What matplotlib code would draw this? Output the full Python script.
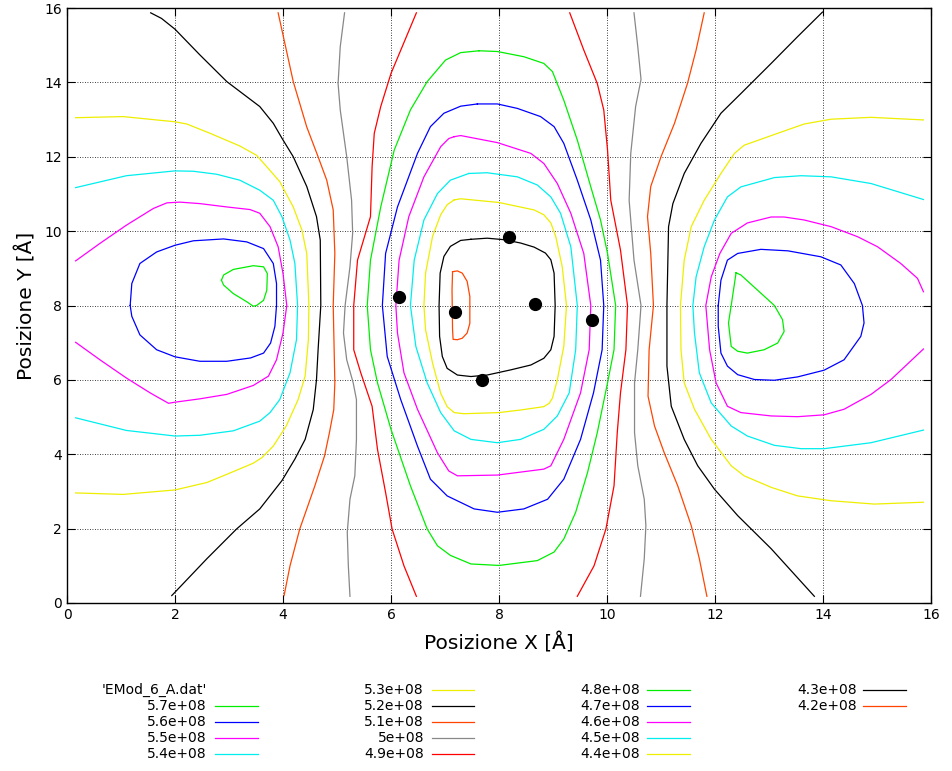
import matplotlib
matplotlib.use('Agg')
import matplotlib.pyplot as plt
from matplotlib.lines import Line2D

# livelli del contour (come nel file gnuplot)
levels = ['5.7e+08', '5.6e+08', '5.5e+08', '5.4e+08', '5.3e+08', '5.2e+08',
          '5.1e+08', '5e+08', '4.9e+08', '4.8e+08', '4.7e+08', '4.6e+08',
          '4.5e+08', '4.4e+08', '4.3e+08', '4.2e+08']
colors = ['#00ee00', '#0000ff', '#ff00ff', '#00eeee', '#eeee00', '#000000',
          '#ff4500', '#888888', '#ff0000', '#00ee00', '#0000ff', '#ff00ff',
          '#00eeee', '#eeee00', '#000000', '#ff4500']

# curve (x, y) in Angstrom
c57_l = [(2.86, 8.68), (2.90, 8.82), (3.08, 8.97), (3.45, 9.07), (3.64, 9.04), (3.71, 8.86),
         (3.70, 8.41), (3.64, 8.14), (3.51, 8.0), (3.45, 7.98), (3.33, 8.1), (3.08, 8.32),
         (2.90, 8.55), (2.86, 8.68)]
c57_r = [(12.39, 8.88), (12.30, 8.0), (12.25, 7.53), (12.30, 6.9), (12.42, 6.77), (12.60, 6.72),
         (12.91, 6.81), (13.16, 6.99), (13.28, 7.3), (13.25, 7.62), (13.10, 8.0), (12.79, 8.41),
         (12.48, 8.82), (12.39, 8.88)]
c56_l = [(1.17, 8.0), (1.20, 8.59), (1.35, 9.13), (1.66, 9.44), (2.0, 9.62), (2.34, 9.74),
         (2.90, 9.79), (3.33, 9.71), (3.64, 9.53), (3.82, 9.13), (3.88, 8.59), (3.88, 8.0),
         (3.85, 7.44), (3.77, 6.99), (3.64, 6.72), (3.40, 6.59), (2.96, 6.5), (2.46, 6.5),
         (2.0, 6.62), (1.66, 6.81), (1.35, 7.21), (1.20, 7.71), (1.17, 8.0)]
c56_r = [(12.06, 8.0), (12.11, 8.68), (12.23, 9.22), (12.42, 9.4), (12.85, 9.51), (13.35, 9.47),
         (13.96, 9.31), (14.33, 9.09), (14.58, 8.59), (14.73, 8.0), (14.76, 7.53), (14.70, 7.17),
         (14.39, 6.54), (14.02, 6.26), (13.53, 6.08), (13.10, 5.99), (12.73, 6.01), (12.42, 6.14),
         (12.23, 6.37), (12.11, 6.72), (12.06, 7.44), (12.06, 8.0)]
c55_l = [(0.16, 9.2), (0.61, 9.67), (1.10, 10.16), (1.60, 10.61), (1.85, 10.76), (2.09, 10.78),
         (2.46, 10.74), (2.96, 10.65), (3.39, 10.58), (3.57, 10.48), (3.76, 10.12), (3.91, 9.58),
         (4.0, 8.86), (4.07, 8.0), (4.0, 7.26), (3.88, 6.54), (3.73, 6.1), (3.45, 5.85),
         (2.96, 5.61), (2.46, 5.49), (2.0, 5.4), (1.88, 5.37), (1.54, 5.65), (1.10, 6.05),
         (0.61, 6.54), (0.16, 7.01)]
c55_r = [(15.86, 8.37), (15.75, 8.73), (15.44, 9.13), (15.01, 9.58), (14.64, 9.85), (14.15, 10.12),
         (13.65, 10.3), (13.28, 10.38), (13.04, 10.38), (12.60, 10.22), (12.30, 9.94), (12.09, 9.4),
         (11.93, 8.77), (11.83, 8.0), (11.90, 6.81), (12.02, 5.92), (12.23, 5.29), (12.48, 5.12),
         (13.04, 5.03), (13.53, 5.01), (14.02, 5.06), (14.39, 5.21), (14.89, 5.61), (15.26, 6.01),
         (15.86, 6.83)]
c54_l = [(0.16, 11.17), (1.10, 11.49), (2.0, 11.62), (2.34, 11.61), (2.77, 11.53), (3.20, 11.37),
         (3.57, 11.1), (3.82, 10.83), (3.98, 10.39), (4.13, 9.76), (4.22, 9.13), (4.27, 8.0),
         (4.25, 7.08), (4.13, 6.19), (3.94, 5.47), (3.76, 5.12), (3.57, 4.89), (3.08, 4.63),
         (2.46, 4.51), (2.0, 4.49), (1.10, 4.64), (0.16, 4.98)]
c54_r = [(15.86, 10.85), (14.89, 11.28), (14.15, 11.46), (13.59, 11.49), (13.10, 11.44), (12.48, 11.19),
         (12.23, 10.92), (11.99, 10.3), (11.80, 9.58), (11.65, 8.77), (11.59, 8.0), (11.62, 7.26),
         (11.71, 6.19), (11.93, 5.38), (12.30, 4.76), (12.60, 4.49), (13.10, 4.24), (13.59, 4.15),
         (14.02, 4.15), (14.89, 4.31), (15.86, 4.65)]
c53_l = [(0.16, 13.05), (1.04, 13.08), (2.0, 12.94), (2.22, 12.88), (2.65, 12.63), (3.20, 12.29),
         (3.51, 12.04), (3.70, 11.73), (3.94, 11.33), (4.19, 10.65), (4.35, 10.03), (4.44, 9.4),
         (4.48, 8.0), (4.47, 7.08), (4.41, 6.1), (4.28, 5.47), (4.06, 4.76), (3.82, 4.22),
         (3.61, 3.91), (3.45, 3.76), (2.96, 3.46), (2.59, 3.24), (2.0, 3.04), (1.04, 2.92),
         (0.16, 2.96)]
c53_r = [(15.86, 12.99), (14.89, 13.06), (14.15, 13.01), (13.65, 12.88), (13.16, 12.63), (12.54, 12.31),
         (12.36, 12.09), (12.11, 11.55), (11.80, 10.83), (11.56, 10.12), (11.43, 9.22), (11.36, 8.0),
         (11.37, 6.81), (11.43, 5.92), (11.62, 5.21), (11.93, 4.4), (12.30, 3.69), (12.54, 3.42),
         (13.04, 3.11), (13.53, 2.88), (14.15, 2.75), (14.95, 2.66), (15.86, 2.71)]
c52_l = [(1.55, 15.87), (1.75, 15.72), (2.0, 15.43), (2.46, 14.74), (2.96, 14.02), (3.57, 13.35),
         (3.82, 12.9), (3.98, 12.5), (4.19, 12.0), (4.44, 11.2), (4.62, 10.39), (4.69, 9.76),
         (4.70, 8.0), (4.65, 6.81), (4.62, 6.0), (4.56, 5.2), (4.41, 4.4), (4.22, 3.87),
         (3.98, 3.29), (3.57, 2.53), (3.14, 1.99), (2.59, 1.19), (2.0, 0.29), (1.94, 0.2)]
c52_r = [(13.99, 15.89), (13.53, 15.23), (13.04, 14.51), (12.48, 13.7), (12.11, 13.17), (11.74, 12.36),
         (11.43, 11.55), (11.22, 10.74), (11.14, 10.12), (11.11, 8.0), (11.11, 6.37), (11.19, 5.29),
         (11.43, 4.4), (11.68, 3.69), (11.99, 3.06), (12.42, 2.35), (13.04, 1.46), (13.84, 0.18)]
c51_l = [(3.91, 15.87), (4.19, 14.02), (4.44, 12.8), (4.65, 12.0), (4.81, 11.37), (4.93, 10.57),
         (4.96, 9.4), (4.93, 8.0), (4.96, 5.92), (4.94, 5.2), (4.86, 4.58), (4.77, 3.96),
         (4.59, 3.15), (4.31, 1.99), (4.13, 1.0), (4.02, 0.2)]
c51_r = [(11.80, 15.87), (11.65, 14.87), (11.49, 13.97), (11.25, 12.9), (11.0, 12.0), (10.81, 11.2),
         (10.75, 10.39), (10.81, 9.4), (10.86, 8.0), (10.78, 6.81), (10.76, 5.56), (10.88, 4.76),
         (11.06, 4.04), (11.31, 3.15), (11.56, 2.08), (11.71, 1.19), (11.85, 0.18)]
c50_l = [(5.14, 15.87), (5.06, 14.96), (5.02, 13.97), (5.06, 13.26), (5.18, 12.0), (5.27, 10.83),
         (5.29, 9.94), (5.24, 9.04), (5.15, 8.0), (5.12, 7.26), (5.18, 6.54), (5.30, 5.92),
         (5.36, 5.47), (5.36, 4.4), (5.33, 3.42), (5.24, 2.79), (5.19, 1.9), (5.21, 1.0),
         (5.24, 0.18)]
c50_r = [(10.50, 15.87), (10.57, 14.96), (10.63, 14.08), (10.53, 13.35), (10.44, 12.09), (10.41, 10.83),
         (10.50, 9.22), (10.63, 8.0), (10.57, 6.81), (10.51, 5.92), (10.51, 4.58), (10.57, 3.69),
         (10.69, 2.79), (10.72, 2.08), (10.69, 1.19), (10.62, 0.18)]
c49_l = [(6.47, 15.87), (6.0, 14.24), (5.81, 13.35), (5.69, 12.63), (5.65, 11.73), (5.62, 10.39),
         (5.38, 9.22), (5.31, 8.0), (5.31, 6.81), (5.44, 6.19), (5.65, 5.29), (5.75, 4.13),
         (5.90, 2.97), (6.02, 1.99), (6.24, 1.0), (6.47, 0.18)]
c49_r = [(9.31, 15.87), (9.57, 14.87), (9.82, 13.97), (9.94, 13.26), (10.01, 12.18), (10.07, 10.83),
         (10.25, 9.49), (10.38, 8.0), (10.35, 6.81), (10.25, 5.65), (10.19, 4.58), (10.13, 3.15),
         (9.98, 1.99), (9.76, 1.0), (9.45, 0.18)]
c48 = [(7.63, 14.85), (7.97, 14.83), (8.46, 14.69), (8.83, 14.51), (8.99, 14.29), (9.20, 13.52),
       (9.45, 12.45), (9.70, 11.19), (9.88, 10.3), (10.01, 9.4), (10.16, 8.0), (10.13, 6.81),
       (10.01, 5.92), (9.82, 4.58), (9.64, 3.51), (9.42, 2.44), (9.20, 1.72), (9.02, 1.37),
       (8.71, 1.14), (8.0, 1.01), (7.48, 1.05), (7.10, 1.28), (6.86, 1.54), (6.67, 1.99),
       (6.36, 3.15), (6.0, 4.67), (5.75, 5.92), (5.62, 6.81), (5.56, 8.0), (5.62, 9.22),
       (5.81, 10.65), (6.06, 12.18), (6.36, 13.26), (6.67, 14.02), (7.01, 14.6), (7.29, 14.8),
       (7.63, 14.85)]
c47 = [(7.60, 13.42), (7.97, 13.42), (8.34, 13.3), (8.77, 13.08), (9.02, 12.81), (9.20, 12.36),
       (9.45, 11.37), (9.70, 10.3), (9.88, 9.22), (9.94, 8.0), (9.91, 6.81), (9.75, 5.65),
       (9.51, 4.4), (9.20, 3.33), (8.90, 2.79), (8.46, 2.53), (7.97, 2.44), (7.54, 2.53),
       (7.04, 2.88), (6.73, 3.33), (6.49, 4.22), (6.18, 5.47), (5.93, 6.63), (5.84, 8.0),
       (5.90, 9.4), (6.12, 10.65), (6.49, 12.09), (6.73, 12.81), (6.98, 13.17), (7.29, 13.36),
       (7.60, 13.42)]
c46 = [(7.17, 12.54), (7.29, 12.57), (7.97, 12.38), (8.59, 12.09), (8.83, 11.82), (9.08, 11.28),
       (9.33, 10.48), (9.57, 9.4), (9.70, 8.0), (9.67, 6.81), (9.51, 5.65), (9.20, 4.4),
       (8.96, 3.69), (8.83, 3.6), (7.97, 3.44), (7.23, 3.42), (7.07, 3.55), (6.86, 4.04),
       (6.49, 5.21), (6.24, 6.19), (6.12, 7.26), (6.09, 8.0), (6.15, 9.22), (6.33, 10.39),
       (6.61, 11.46), (6.92, 12.27), (7.07, 12.49), (7.17, 12.54)]
c45 = [(7.44, 11.55), (7.78, 11.57), (8.34, 11.46), (8.71, 11.24), (8.96, 10.92), (9.14, 10.48),
       (9.33, 9.58), (9.45, 8.0), (9.42, 6.81), (9.30, 5.65), (9.08, 5.03), (8.83, 4.67),
       (8.40, 4.4), (7.97, 4.31), (7.48, 4.4), (7.17, 4.63), (6.92, 5.12), (6.67, 5.92),
       (6.46, 6.9), (6.36, 8.0), (6.43, 9.22), (6.61, 10.3), (6.86, 11.01), (7.10, 11.37),
       (7.44, 11.55)]
c44 = [(7.17, 10.84), (7.29, 10.87), (8.0, 10.77), (8.65, 10.57), (8.83, 10.44), (8.96, 10.22),
       (9.05, 9.86), (9.17, 9.05), (9.25, 8.0), (9.20, 6.9), (9.08, 6.0), (8.99, 5.51),
       (8.93, 5.37), (8.83, 5.28), (8.40, 5.19), (8.0, 5.12), (7.35, 5.09), (7.17, 5.12),
       (7.04, 5.28), (6.92, 5.64), (6.77, 6.45), (6.64, 7.35), (6.61, 8.0), (6.64, 8.87),
       (6.77, 9.86), (6.92, 10.44), (7.04, 10.71), (7.17, 10.84)]
c43 = [(7.48, 9.78), (7.78, 9.81), (8.09, 9.77), (8.40, 9.68), (8.65, 9.57), (8.86, 9.41),
       (8.96, 9.23), (9.02, 8.87), (9.04, 8.0), (9.02, 7.17), (8.96, 6.81), (8.83, 6.58),
       (8.59, 6.40), (8.22, 6.27), (7.78, 6.13), (7.48, 6.09), (7.23, 6.13), (7.04, 6.31),
       (6.95, 6.63), (6.90, 7.17), (6.89, 8.0), (6.91, 8.87), (6.98, 9.32), (7.10, 9.59),
       (7.29, 9.75), (7.48, 9.78)]
c42 = [(7.14, 8.91), (7.23, 8.93), (7.32, 8.87), (7.41, 8.65), (7.46, 8.24), (7.46, 7.52),
       (7.41, 7.26), (7.32, 7.12), (7.23, 7.08), (7.15, 7.09), (7.14, 7.35), (7.13, 8.42),
       (7.14, 8.91)]

curves = [[c57_l, c57_r], [c56_l, c56_r], [c55_l, c55_r], [c54_l, c54_r], [c53_l, c53_r],
          [c52_l, c52_r], [c51_l, c51_r], [c50_l, c50_r], [c49_l, c49_r],
          [c48], [c47], [c46], [c45], [c44], [c43], [c42]]

# posizioni atomi
atom_x = [6.15, 7.19, 8.19, 8.67, 9.72, 7.69]
atom_y = [8.23, 7.82, 9.85, 8.04, 7.62, 6.01]

fig = plt.figure(figsize=(9.52, 7.71), dpi=100)
ax = fig.add_axes([67/952, 1 - 603/771, 864/952, 595/771])

for i in range(len(levels)):
    for c in curves[i]:
        xs = [p[0] for p in c]
        ys = [p[1] for p in c]
        ax.plot(xs, ys, color=colors[i], lw=0.9)

ax.plot(atom_x, atom_y, 'o', color='black', markersize=8.5, zorder=5)

ax.set_xlim(0, 16)
ax.set_ylim(0, 16)
ax.set_xticks(range(0, 17, 2))
ax.set_yticks(range(0, 17, 2))
ax.tick_params(direction='in', top=True, right=True, length=6, width=0.8, labelsize=10)
ax.grid(True, linestyle=(0, (1, 2)), color='black', lw=0.6)
for s in ax.spines.values():
    s.set_linewidth(1.0)
ax.set_xlabel('Posizione X [Å]', fontsize=14.5, labelpad=8)
ax.set_ylabel('Posizione Y [Å]', fontsize=14.5, labelpad=6)

# legenda stile gnuplot (testo a destra allineato, linea dopo)
row_y = [690, 706, 722, 738, 754]
col_text_x = [207, 424, 640, 857]
col_line = [(215, 258), (432, 474), (647, 690), (863, 906)]
fig.text(207/952, 1 - 690/771, "'EMod_6_A.dat'", ha='right', va='center', fontsize=10)
for i, lab in enumerate(levels):
    k = i + 1
    col, row = k // 5, k % 5
    yy = 1 - row_y[row]/771
    fig.text(col_text_x[col]/952, yy, lab, ha='right', va='center', fontsize=10)
    x0, x1 = col_line[col]
    fig.add_artist(Line2D([x0/952, x1/952], [yy, yy], color=colors[i], lw=0.9))

fig.savefig('out.png', dpi=100)
